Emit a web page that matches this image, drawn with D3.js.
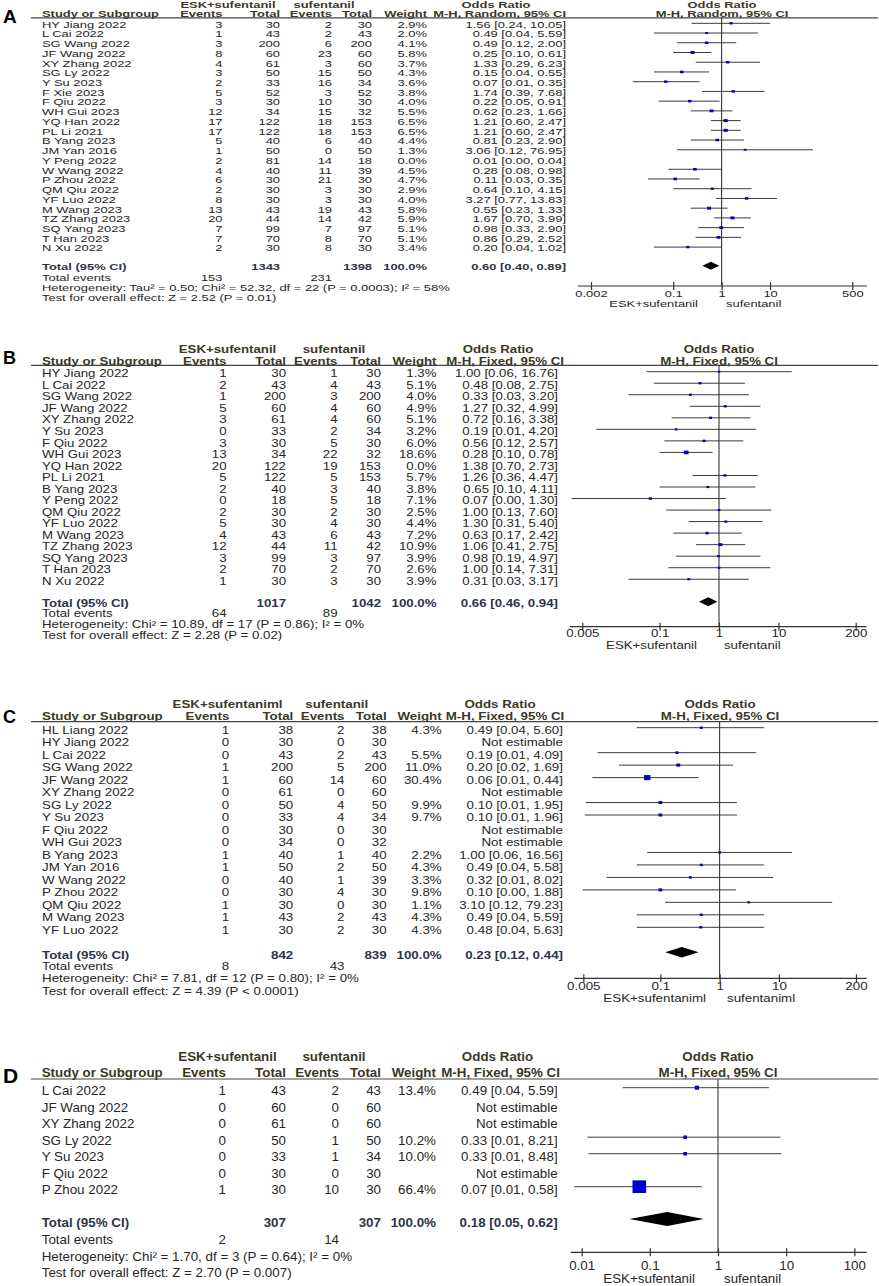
<!DOCTYPE html>
<html>
<head>
<meta charset="utf-8">
<script src="https://cdn.jsdelivr.net/npm/d3@7"></script>
<style>
  body { margin: 0; background: #fff; }
  svg { display: block; }
  text { font-family: Arial, "Liberation Sans", sans-serif; }
</style>
</head>
<body>
<div class="canvas"></div>
<script>
// ---------- panel A : M-H random ----------
const studiesA = ['HY Jiang 2022','L Cai 2022','SG Wang 2022','JF Wang 2022','XY Zhang 2022','SG Ly 2022','Y Su 2023','F Xie 2023','F Qiu 2022','WH Gui 2023','YQ Han 2022','PL Li 2021','B Yang 2023','JM Yan 2016','Y Peng 2022','W Wang 2022','P Zhou 2022','QM Qiu 2022','YF Luo 2022','M Wang 2023','TZ Zhang 2023','SQ Yang 2023','T Han 2023','N Xu 2022'];
const eskEventsA = [3,1,3,8,4,3,2,5,3,12,17,17,5,1,2,4,6,2,8,13,20,7,7,2];
const eskTotalA  = [30,43,200,60,61,50,33,52,30,34,122,122,40,50,81,40,30,30,30,43,44,99,70,30];
const sufEventsA = [2,2,6,23,3,15,16,3,10,15,18,18,6,0,14,11,21,3,3,19,14,7,8,8];
const sufTotalA  = [30,43,200,60,60,50,34,52,30,32,153,153,40,50,18,39,30,30,30,43,42,97,70,30];
const weightA = [2.9,2.0,4.1,5.8,3.7,4.3,3.6,3.8,4.0,5.5,6.5,6.5,4.4,1.3,0.0,4.5,4.7,2.9,4.0,5.8,5.9,5.1,5.1,3.4];
const orA    = [1.56,0.49,0.49,0.25,1.33,0.15,0.07,1.74,0.22,0.62,1.21,1.21,0.81,3.06,0.01,0.28,0.11,0.64,3.27,0.55,1.67,0.98,0.86,0.20];
const lowerA = [0.24,0.04,0.12,0.10,0.29,0.04,0.0147,0.39,0.05,0.23,0.60,0.60,0.23,0.12,0.004,0.08,0.03,0.10,0.77,0.23,0.70,0.33,0.29,0.04];
const upperA = [10.05,5.59,2.00,0.61,6.23,0.55,0.35,7.68,0.91,1.66,2.47,2.47,2.90,76.95,0.04,0.98,0.35,4.15,13.83,1.33,3.99,2.90,2.52,1.02];
const totalsA = [1343, 1398];
const totalEventsA = [153, 231];
const pooledA = [0.60, 0.40, 0.89];
const ticksA = [0.002, 0.1, 1, 10, 500];
const hetA = 'Heterogeneity: Tau² = 0.50; Chi² = 52.32, df = 22 (P = 0.0003); I² = 58%';
const testA = 'Test for overall effect: Z = 2.52 (P = 0.01)';

// ---------- panel B : M-H fixed ----------
const studiesB = ['HY Jiang 2022','L Cai 2022','SG Wang 2022','JF Wang 2022','XY Zhang 2022','Y Su 2023','F Qiu 2022','WH Gui 2023','YQ Han 2022','PL Li 2021','B Yang 2023','Y Peng 2022','QM Qiu 2022','YF Luo 2022','M Wang 2023','TZ Zhang 2023','SQ Yang 2023','T Han 2023','N Xu 2022'];
const eskEventsB = [1,2,1,5,3,0,3,13,20,5,2,0,2,5,4,12,3,2,1];
const eskTotalB  = [30,43,200,60,61,33,30,34,122,122,40,18,30,30,43,44,99,70,30];
const sufEventsB = [1,4,3,4,4,2,5,22,19,5,3,5,2,4,6,11,3,2,3];
const sufTotalB  = [30,43,200,60,60,34,30,32,153,153,40,18,30,30,43,42,97,70,30];
const weightB = [1.3,5.1,4.0,4.9,5.1,3.2,6.0,18.6,0.0,5.7,3.8,7.1,2.5,4.4,7.2,10.9,3.9,2.6,3.9];
const orB    = [1.00,0.48,0.33,1.27,0.72,0.19,0.56,0.28,1.38,1.26,0.65,0.07,1.00,1.30,0.63,1.06,0.98,1.00,0.31];
const lowerB = [0.06,0.08,0.03,0.32,0.16,0.0086,0.12,0.10,0.70,0.36,0.10,0.0033,0.13,0.31,0.17,0.41,0.19,0.14,0.03];
const upperB = [16.76,2.75,3.20,4.99,3.38,4.20,2.57,0.78,2.73,4.47,4.11,1.30,7.60,5.40,2.42,2.75,4.97,7.31,3.17];
const totalsB = [1017, 1042];
const totalEventsB = [64, 89];
const pooledB = [0.66, 0.46, 0.94];
const ticksB = [0.005, 0.1, 1, 10, 200];
const hetB = 'Heterogeneity: Chi² = 10.89, df = 17 (P = 0.86); I² = 0%';
const testB = 'Test for overall effect: Z = 2.28 (P = 0.02)';

// ---------- panel C ----------
const studiesC = ['HL Liang 2022','HY Jiang 2022','L Cai 2022','SG Wang 2022','JF Wang 2022','XY Zhang 2022','SG Ly 2022','Y Su 2023','F Qiu 2022','WH Gui 2023','B Yang 2023','JM Yan 2016','W Wang 2022','P Zhou 2022','QM Qiu 2022','M Wang 2023','YF Luo 2022'];
const eskEventsC = [1,0,0,1,1,0,0,0,0,0,1,1,0,0,1,1,1];
const eskTotalC  = [38,30,43,200,60,61,50,33,30,34,40,50,40,30,30,43,30];
const sufEventsC = [2,0,2,5,14,0,4,4,0,0,1,2,1,4,0,2,2];
const sufTotalC  = [38,30,43,200,60,60,50,34,30,32,40,50,39,30,30,43,30];
const weightC = [4.3,null,5.5,11.0,30.4,null,9.9,9.7,null,null,2.2,4.3,3.3,9.8,1.1,4.3,4.3];
const orC    = [0.49,null,0.19,0.20,0.06,null,0.10,0.10,null,null,1.00,0.49,0.32,0.10,3.10,0.49,0.48];
const lowerC = [0.04,null,0.0087,0.02,0.0071,null,0.0055,0.0053,null,null,0.06,0.04,0.0124,0.0049,0.12,0.04,0.04];
const upperC = [5.60,null,4.09,1.69,0.44,null,1.95,1.96,null,null,16.56,5.58,8.02,1.88,79.23,5.59,5.63];
const totalsC = [842, 839];
const totalEventsC = [8, 43];
const pooledC = [0.23, 0.12, 0.44];
const ticksC = [0.005, 0.1, 1, 10, 200];
const hetC = 'Heterogeneity: Chi² = 7.81, df = 12 (P = 0.80); I² = 0%';
const testC = 'Test for overall effect: Z = 4.39 (P < 0.0001)';

// ---------- panel D ----------
const studiesD = ['L Cai 2022','JF Wang 2022','XY Zhang 2022','SG Ly 2022','Y Su 2023','F Qiu 2022','P Zhou 2022'];
const eskEventsD = [1,0,0,0,0,0,1];
const eskTotalD  = [43,60,61,50,33,30,30];
const sufEventsD = [2,0,0,1,1,0,10];
const sufTotalD  = [43,60,60,50,34,30,30];
const weightD = [13.4,null,null,10.2,10.0,null,66.4];
const orD    = [0.49,null,null,0.33,0.33,null,0.07];
const lowerD = [0.04,null,null,0.0122,0.0126,null,0.0078];
const upperD = [5.59,null,null,8.21,8.48,null,0.58];
const totalsD = [307, 307];
const totalEventsD = [2, 14];
const pooledD = [0.18, 0.05, 0.62];
const ticksD = [0.01, 0.1, 1, 10, 100];
const hetD = 'Heterogeneity: Chi² = 1.70, df = 3 (P = 0.64); I² = 0%';
const testD = 'Test for overall effect: Z = 2.70 (P = 0.007)';

const svg = d3.select('.canvas')
    .append('svg')
    .attr('width', 879)
    .attr('height', 1286);

svg.append('rect').attr('width', 879).attr('height', 1286).attr('fill', '#fff');

const ink = '#262626', head = '#3b3826', totInk = '#2e3447';
const boxCol = '#0000c8', ciCol = '#3a3a3a';

const fmtOR = (o, l, h) => `${o.toFixed(2)} [${l.toFixed(2)}, ${h.toFixed(2)}]`;

// layout of each panel (positions in page pixels)
const layouts = {
  A: { fs: 9.3, sx: 1.39, letterFs: 19, letterY: 23, h1: 4.5, h2: 13.5, rule: 17.8,
       row0: 23.3, pitch: 9.73, dy: 1, totY: 265.7, evY: 277.7, hetY: 287.7, testY: 297.7,
       axisY: 286, tickY: 293.3, axLabY: 304,
       cName: 42, cEv1: 222.5, cN1: 280, cEv2: 332, cN2: 372, cW: 427, cOr: 566, cOrH: 566,
       hEsk: 228, hSuf: 324, hOrL: 496, hOrR: 722,
       range: [591, 852.3], axis: [578, 867], dia: 4, labL: 698, labR: 726, box: [1.7, 0.2] },
  B: { fs: 10.2, sx: 1.30, letterFs: 18, letterY: 364.3, h1: 349.3, h2: 361, rule: 365.3,
       row0: 371.7, pitch: 11.53, dy: 2, totY: 601.7, evY: 613.3, hetY: 624, testY: 635,
       axisY: 626.7, tickY: 633.3, axLabY: 645,
       cName: 42, cEv1: 226.5, cN1: 286, cEv2: 337.5, cN2: 381, cW: 436.5, cOr: 558, cOrH: 564,
       hEsk: 227.5, hSuf: 334, hOrL: 498, hOrR: 719,
       range: [582.3, 855.7], axis: [570, 866.7], dia: 4.5, labL: 697, labR: 724, box: [1.8, 0.1] },
  C: { fs: 10.5, sx: 1.27, letterFs: 18, letterY: 723, h1: 704.3, h2: 716.7, rule: 721.7,
       row0: 727.7, pitch: 12.475, dy: 2.5, totY: 952.3, evY: 966, hetY: 978.5, testY: 991,
       axisY: 978.3, tickY: 986.7, axLabY: 998,
       cName: 42, cEv1: 229.3, cN1: 293.3, cEv2: 344.5, cN2: 386.7, cW: 441.7, cOr: 563, cOrH: 564.3,
       hEsk: 227.5, hSuf: 336.7, hOrL: 500, hOrR: 720,
       range: [583.3, 856], axis: [574.3, 866.7], dia: 5.3, labL: 706, labR: 727, box: [2, 0.1] },
  D: { fs: 12.5, sx: 1.07, letterFs: 21, letterY: 1083.3, h1: 1056.7, h2: 1072.7, rule: 1079,
       row0: 1087.7, pitch: 16.5, dy: 3, totY: 1219, evY: 1239.3, hetY: 1256, testY: 1272.7,
       axisY: 1252.3, tickY: 1265, axLabY: 1278.3,
       cName: 41.7, cEv1: 226, cN1: 286, cEv2: 339, cN2: 381, cW: 436, cOr: 557.7, cOrH: 560,
       hEsk: 227.5, hSuf: 334, hOrL: 497.5, hOrR: 718,
       range: [581.7, 854.3], axis: [570.7, 866.7], dia: 7, labL: 695, labR: 724, box: [1.8, 0.164] }
};

const drawPanel = (letter, L, d) => {
  const g = svg.append('g');

  // stretched text, y = visual centre of the capitals
  const t = (x, y, s, o = {}) => g.append('text')
      .attr('transform', `translate(${x},${y + 0.36 * L.fs}) scale(${L.sx},1)`)
      .attr('text-anchor', o.a || 'start')
      .attr('font-size', L.fs)
      .attr('font-weight', o.b ? 'bold' : null)
      .attr('fill', o.c || ink)
      .text(s);

  const x = d3.scaleLog()
      .domain([d.ticks[0], d.ticks[d.ticks.length - 1]])
      .range(L.range);
  const px = v => Math.max(L.axis[0], Math.min(L.axis[1], x(v)));
  const rowY = i => L.row0 + i * L.pitch;

  // panel letter
  g.append('text')
      .attr('x', 3).attr('y', L.letterY)
      .attr('font-size', L.letterFs).attr('font-weight', 'bold').attr('fill', '#000')
      .text(letter);

  // headers
  const hb = { b: true, c: head };
  t(L.hEsk, L.h1, d.groups[0], { ...hb, a: 'middle' });
  t(L.hSuf, L.h1, d.groups[1], { ...hb, a: 'middle' });
  t(L.hOrL, L.h1, 'Odds Ratio', { ...hb, a: 'middle' });
  t(L.hOrR, L.h1, 'Odds Ratio', { ...hb, a: 'middle' });
  t(L.cName, L.h2, 'Study or Subgroup', hb);
  t(L.cEv1, L.h2, 'Events', { ...hb, a: 'end' });
  t(L.cN1, L.h2, 'Total', { ...hb, a: 'end' });
  t(L.cEv2, L.h2, 'Events', { ...hb, a: 'end' });
  t(L.cN2, L.h2, 'Total', { ...hb, a: 'end' });
  t(L.cW, L.h2, 'Weight', { ...hb, a: 'end' });
  t(L.cOrH, L.h2, d.method, { ...hb, a: 'end' });
  t(L.hOrR, L.h2, d.method, { ...hb, a: 'middle' });

  g.append('line')
      .attr('x1', 31).attr('x2', 878)
      .attr('y1', L.rule).attr('y2', L.rule)
      .attr('stroke', '#444').attr('stroke-width', 1.2);

  // study rows
  d.studies.forEach((s, i) => {
    const y = rowY(i) + L.dy;
    t(L.cName, y, s);
    t(L.cEv1, y, d.eskEvents[i], { a: 'end' });
    t(L.cN1, y, d.eskTotal[i], { a: 'end' });
    t(L.cEv2, y, d.sufEvents[i], { a: 'end' });
    t(L.cN2, y, d.sufTotal[i], { a: 'end' });
    if (d.weight[i] !== null) t(L.cW, y, d.weight[i].toFixed(1) + '%', { a: 'end' });
    t(L.cOr, y, d.or[i] === null ? 'Not estimable' : fmtOR(d.or[i], d.lower[i], d.upper[i]), { a: 'end' });
  });

  // vertical line of no effect
  g.append('line')
      .attr('x1', x(1)).attr('x2', x(1))
      .attr('y1', L.rule).attr('y2', L.axisY)
      .attr('stroke', '#222').attr('stroke-width', 1);

  // confidence intervals and boxes
  const shown = d.studies.map((s, i) => i).filter(i => d.weight[i] > 0);

  g.selectAll('.ci')
    .data(shown)
    .join('line')
      .attr('class', 'ci')
      .attr('x1', i => px(d.lower[i]))
      .attr('x2', i => px(d.upper[i]))
      .attr('y1', i => rowY(i))
      .attr('y2', i => rowY(i))
      .attr('stroke', ciCol)
      .attr('stroke-width', 1);

  const boxH = i => L.box[0] + L.box[1] * d.weight[i];
  g.selectAll('.box')
    .data(shown)
    .join('rect')
      .attr('class', 'box')
      .attr('x', i => x(d.or[i]) - boxH(i) * L.sx / 2)
      .attr('y', i => rowY(i) - boxH(i) / 2)
      .attr('width', i => boxH(i) * L.sx)
      .attr('height', boxH)
      .attr('fill', boxCol);

  // total row
  const ty = L.totY + L.dy;
  t(L.cName, ty, 'Total (95% CI)', { b: true, c: totInk });
  t(L.cN1, ty, d.totals[0], { b: true, c: totInk, a: 'end' });
  t(L.cN2, ty, d.totals[1], { b: true, c: totInk, a: 'end' });
  t(L.cW, ty, '100.0%', { b: true, c: totInk, a: 'end' });
  t(L.cOr, ty, fmtOR(...d.pooled), { b: true, c: totInk, a: 'end' });

  const [po, pl, ph] = d.pooled;
  g.append('path')
      .attr('d', `M${x(pl)},${L.totY}L${x(po)},${L.totY - L.dia}L${x(ph)},${L.totY}L${x(po)},${L.totY + L.dia}Z`)
      .attr('fill', '#000');

  t(L.cName, L.evY, 'Total events');
  t(L.cEv1, L.evY, d.totalEvents[0], { a: 'end' });
  t(L.cEv2, L.evY, d.totalEvents[1], { a: 'end' });
  t(L.cName, L.hetY, d.het);
  t(L.cName, L.testY, d.test);

  // axis
  g.append('line')
      .attr('x1', L.axis[0]).attr('x2', L.axis[1])
      .attr('y1', L.axisY).attr('y2', L.axisY)
      .attr('stroke', '#333').attr('stroke-width', 1.2);

  const ax = g.append('g')
      .attr('transform', `translate(0,${L.axisY})`)
      .call(d3.axisBottom(x).tickValues(d.ticks).tickFormat(v => v).tickSizeOuter(0));
  ax.attr('font-family', null).attr('font-size', null);
  ax.select('.domain').remove();
  ax.selectAll('.tick line')
      .attr('y1', -4).attr('y2', 4)
      .attr('stroke', '#333').attr('stroke-width', 1.2);
  ax.selectAll('.tick text')
      .attr('y', null).attr('dy', null)
      .attr('transform', `translate(0,${L.tickY - L.axisY + 0.36 * L.fs}) scale(${L.sx},1)`)
      .attr('font-size', L.fs)
      .attr('fill', ink);

  t(L.labL, L.axLabY, d.axisLabels[0], { a: 'end' });
  t(L.labR, L.axLabY, d.axisLabels[1]);
};

drawPanel('A', layouts.A, {
  studies: studiesA, eskEvents: eskEventsA, eskTotal: eskTotalA, sufEvents: sufEventsA, sufTotal: sufTotalA,
  weight: weightA, or: orA, lower: lowerA, upper: upperA,
  totals: totalsA, totalEvents: totalEventsA, pooled: pooledA, ticks: ticksA, het: hetA, test: testA,
  method: 'M-H, Random, 95% CI', groups: ['ESK+sufentanil', 'sufentanil'], axisLabels: ['ESK+sufentanil', 'sufentanil']
});

drawPanel('B', layouts.B, {
  studies: studiesB, eskEvents: eskEventsB, eskTotal: eskTotalB, sufEvents: sufEventsB, sufTotal: sufTotalB,
  weight: weightB, or: orB, lower: lowerB, upper: upperB,
  totals: totalsB, totalEvents: totalEventsB, pooled: pooledB, ticks: ticksB, het: hetB, test: testB,
  method: 'M-H, Fixed, 95% CI', groups: ['ESK+sufentanil', 'sufentanil'], axisLabels: ['ESK+sufentanil', 'sufentanil']
});

drawPanel('C', layouts.C, {
  studies: studiesC, eskEvents: eskEventsC, eskTotal: eskTotalC, sufEvents: sufEventsC, sufTotal: sufTotalC,
  weight: weightC, or: orC, lower: lowerC, upper: upperC,
  totals: totalsC, totalEvents: totalEventsC, pooled: pooledC, ticks: ticksC, het: hetC, test: testC,
  method: 'M-H, Fixed, 95% CI', groups: ['ESK+sufentaniml', 'sufentanil'], axisLabels: ['ESK+sufentaniml', 'sufentaniml']
});

drawPanel('D', layouts.D, {
  studies: studiesD, eskEvents: eskEventsD, eskTotal: eskTotalD, sufEvents: sufEventsD, sufTotal: sufTotalD,
  weight: weightD, or: orD, lower: lowerD, upper: upperD,
  totals: totalsD, totalEvents: totalEventsD, pooled: pooledD, ticks: ticksD, het: hetD, test: testD,
  method: 'M-H, Fixed, 95% CI', groups: ['ESK+sufentanil', 'sufentanil'], axisLabels: ['ESK+sufentanil', 'sufentanil']
});
</script>
</body>
</html>
